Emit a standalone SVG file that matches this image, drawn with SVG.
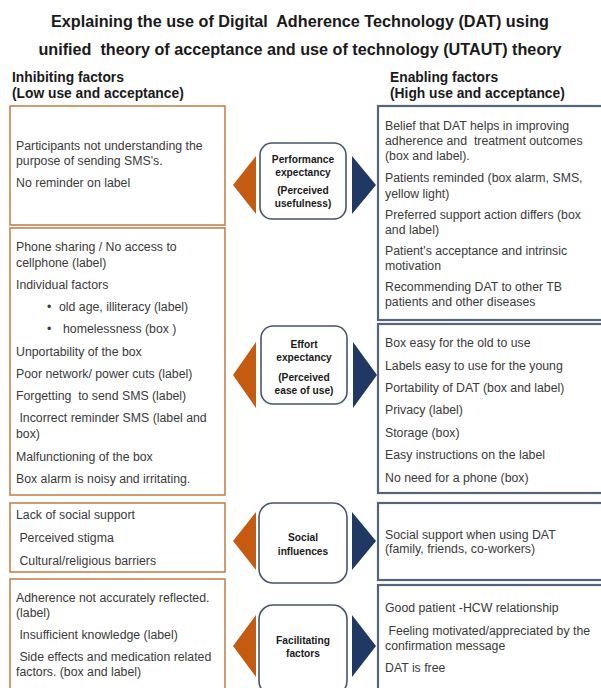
<svg xmlns="http://www.w3.org/2000/svg" width="601" height="688" viewBox="0 0 601 688">
<style>
text{font-family:"Liberation Sans",Arial,sans-serif;fill:#3a3a3a;white-space:pre}
.title{font-size:16.2px;font-weight:bold;fill:#1a1a1a;text-anchor:middle}
.head{font-size:13.8px;font-weight:bold;fill:#1a1a1a}
.b{font-size:12.3px}
.c{font-size:10.2px;font-weight:bold;fill:#1a1a1a;text-anchor:middle}
.lbox{fill:#fff;stroke:#c4834f;stroke-width:1.6}
.rbox{fill:#fff;stroke:#556479;stroke-width:2.2}
.cbox{fill:#fff;stroke:#46556a;stroke-width:1.6}
.ot{fill:#c55a11}
.nt{fill:#1f3864}
</style>
<rect width="601" height="688" fill="#fff"/>
<g id="title">
<text class="title" x="300" y="27">Explaining the use of Digital  Adherence Technology (DAT) using</text>
<text class="title" x="300" y="55">unified  theory of acceptance and use of technology (UTAUT) theory</text>
</g>
<g id="headers">
<text class="head" x="12" y="82">Inhibiting factors</text>
<text class="head" x="12" y="98">(Low use and acceptance)</text>
<text class="head" x="390" y="82">Enabling factors</text>
<text class="head" x="390" y="98">(High use and acceptance)</text>
</g>
<g id="inhibit-performance">
<rect class="lbox" x="10" y="106" width="215" height="119"/>
<text class="b" x="16" y="150">Participants not understanding the</text>
<text class="b" x="16" y="165">purpose of sending SMS's.</text>
<text class="b" x="16" y="187">No reminder on label</text>
</g>
<g id="inhibit-effort">
<rect class="lbox" x="10" y="228" width="215" height="267"/>
<text class="b" x="16" y="251">Phone sharing / No access to</text>
<text class="b" x="16" y="267">cellphone (label)</text>
<text class="b" x="16" y="289">Individual factors</text>
<text class="b" x="47" y="311">•</text>
<text class="b" x="59" y="311">old age, illiteracy (label)</text>
<text class="b" x="47" y="333">•</text>
<text class="b" x="63" y="333">homelessness (box )</text>
<text class="b" x="16" y="356">Unportability of the box</text>
<text class="b" x="16" y="378">Poor network/ power cuts (label)</text>
<text class="b" x="16" y="400">Forgetting  to send SMS (label)</text>
<text class="b" x="16" y="422"> Incorrect reminder SMS (label and</text>
<text class="b" x="16" y="438">box)</text>
<text class="b" x="16" y="461">Malfunctioning of the box</text>
<text class="b" x="16" y="483">Box alarm is noisy and irritating.</text>
</g>
<g id="inhibit-social">
<rect class="lbox" x="10" y="503" width="215" height="69"/>
<text class="b" x="16" y="519">Lack of social support</text>
<text class="b" x="16" y="542"> Perceived stigma</text>
<text class="b" x="16" y="565"> Cultural/religious barriers</text>
</g>
<g id="inhibit-facilitating">
<rect class="lbox" x="10" y="579" width="215" height="130"/>
<text class="b" x="16" y="602">Adherence not accurately reflected.</text>
<text class="b" x="16" y="617">(label)</text>
<text class="b" x="16" y="639"> Insufficient knowledge (label)</text>
<text class="b" x="16" y="661"> Side effects and medication related</text>
<text class="b" x="16" y="676">factors. (box and label)</text>
</g>
<g id="enable-performance">
<rect class="rbox" x="378" y="106" width="240" height="214"/>
<text class="b" x="385" y="130">Belief that DAT helps in improving</text>
<text class="b" x="385" y="145">adherence and  treatment outcomes</text>
<text class="b" x="385" y="160">(box and label).</text>
<text class="b" x="385" y="182">Patients reminded (box alarm, SMS,</text>
<text class="b" x="385" y="198">yellow light)</text>
<text class="b" x="385" y="219">Preferred support action differs (box</text>
<text class="b" x="385" y="234">and label)</text>
<text class="b" x="385" y="255">Patient's acceptance and intrinsic</text>
<text class="b" x="385" y="270">motivation</text>
<text class="b" x="385" y="291">Recommending DAT to other TB</text>
<text class="b" x="385" y="306">patients and other diseases</text>
</g>
<g id="enable-effort">
<rect class="rbox" x="378" y="324" width="240" height="169"/>
<text class="b" x="385" y="347">Box easy for the old to use</text>
<text class="b" x="385" y="370">Labels easy to use for the young</text>
<text class="b" x="385" y="392">Portability of DAT (box and label)</text>
<text class="b" x="385" y="414">Privacy (label)</text>
<text class="b" x="385" y="437">Storage (box)</text>
<text class="b" x="385" y="459">Easy instructions on the label</text>
<text class="b" x="385" y="482">No need for a phone (box)</text>
</g>
<g id="enable-social">
<rect class="rbox" x="378" y="503" width="240" height="77"/>
<text class="b" x="385" y="539">Social support when using DAT</text>
<text class="b" x="385" y="553">(family, friends, co-workers)</text>
</g>
<g id="enable-facilitating">
<rect class="rbox" x="378" y="585" width="240" height="130"/>
<text class="b" x="385" y="612">Good patient -HCW relationship</text>
<text class="b" x="385" y="635"> Feeling motivated/appreciated by the</text>
<text class="b" x="385" y="650">confirmation message</text>
<text class="b" x="385" y="672">DAT is free</text>
</g>
<g id="performance-expectancy">
<rect class="cbox" x="260" y="143" width="86" height="76" rx="12"/>
<text class="c" x="303" y="163">Performance</text>
<text class="c" x="303" y="176">expectancy</text>
<text class="c" x="303" y="194">(Perceived</text>
<text class="c" x="303" y="207">usefulness)</text>
</g>
<g id="effort-expectancy">
<rect class="cbox" x="261" y="326" width="86" height="78" rx="12"/>
<text class="c" x="304" y="348">Effort</text>
<text class="c" x="304" y="361">expectancy</text>
<text class="c" x="304" y="381">(Perceived</text>
<text class="c" x="304" y="394">ease of use)</text>
</g>
<g id="social-influences">
<rect class="cbox" x="259" y="503" width="88" height="80" rx="14"/>
<text class="c" x="303" y="541">Social</text>
<text class="c" x="303" y="555">influences</text>
</g>
<g id="facilitating-factors">
<rect class="cbox" x="259" y="605" width="88" height="90" rx="14"/>
<text class="c" x="303" y="644">Facilitating</text>
<text class="c" x="303" y="657">factors</text>
</g>
<g id="connectors">
<polygon class="ot" points="233,185 256,156 256,214"/>
<polygon class="nt" points="376,185 352,156 352,214"/>
<polygon class="ot" points="233,375 256,342 256,408"/>
<polygon class="nt" points="377,375 353,342 353,408"/>
<polygon class="ot" points="233,541 256,512 256,570"/>
<polygon class="nt" points="376,541 352,512 352,570"/>
<polygon class="ot" points="233,646 256,615 256,677"/>
<polygon class="nt" points="376,646 352,615 352,677"/>
</g>
</svg>
